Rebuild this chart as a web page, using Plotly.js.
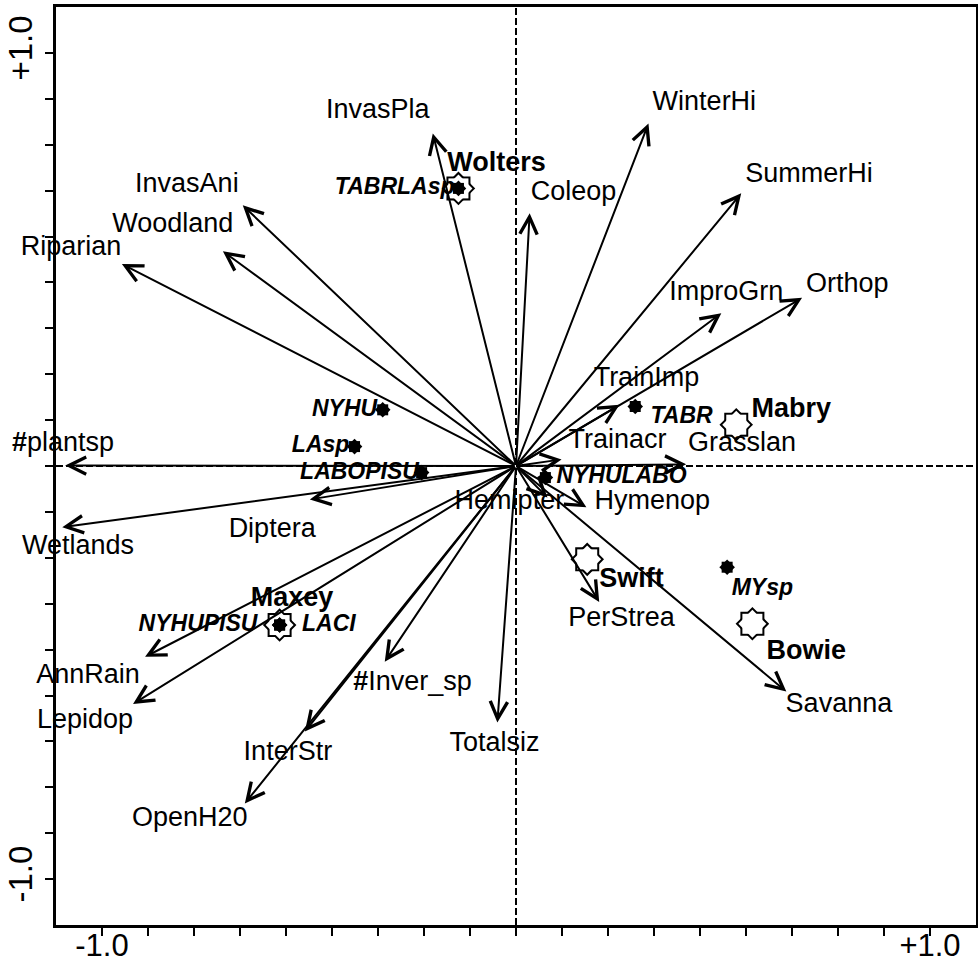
<!DOCTYPE html>
<html><head><meta charset="utf-8">
<script src="https://cdn.plot.ly/plotly-3.0.1.min.js"></script>
<style>body{margin:0;background:#fff}</style>
</head><body><div id="chart" style="width:978px;height:965px"></div>
<script>
// Environmental / taxa variables (arrow tips)
const varNames = ['InvasPla','WinterHi','InvasAni','Woodland','Riparian','Coleop','SummerHi','ImproGrn','Orthop','TrainImp','Trainacr','Grasslan','Hymenop','Hemipter','<b>#</b>plantsp','Wetlands','Diptera','AnnRain','Lepidop','<b>#</b>Inver_sp','InterStr','OpenH20','Totalsiz','PerStrea','Savanna'];
const varX = [-0.201, 0.320, -0.660, -0.708, -0.952, 0.033, 0.544, 0.496, 0.691, 0.250, 0.110, 0.411, 0.170, 0.076, -1.089, -1.096, -0.498, -0.896, -0.925, -0.317, -0.510, -0.655, -0.045, 0.201, 0.653];
const varY = [0.805, 0.829, 0.631, 0.520, 0.489, 0.612, 0.660, 0.370, 0.407, 0.148, 0.016, 0.004, -0.100, -0.076, 0.001, -0.148, -0.081, -0.462, -0.576, -0.474, -0.643, -0.817, -0.621, -0.329, -0.546];
const varLabelX = [-0.334, 0.455, -0.795, -0.829, -1.075, 0.139, 0.708, 0.508, 0.800, 0.315, 0.245, 0.546, 0.329, -0.016, -1.094, -1.058, -0.589, -1.034, -1.041, -0.250, -0.551, -0.788, -0.052, 0.255, 0.780];
const varLabelY = [0.858, 0.877, 0.679, 0.583, 0.527, 0.660, 0.703, 0.419, 0.438, 0.209, 0.059, 0.052, -0.088, -0.088, 0.052, -0.197, -0.156, -0.510, -0.619, -0.527, -0.695, -0.855, -0.674, -0.370, -0.578];

// Sites (open stars)
const siteNames = ['Wolters','Mabry','Swift','Bowie','Maxey'];
const siteX = [-0.139, 0.532, 0.172, 0.571, -0.571];
const siteY = [0.672, 0.100, -0.226, -0.382, -0.385];
const siteLabelX = [-0.047, 0.665, 0.279, 0.701, -0.541];
const siteLabelY = [0.730, 0.134, -0.276, -0.450, -0.322];

// Species (filled stars)
const spNames = ['TABRLAsp','NYHU','LAsp','LABOPISU','NYHULABO','TABR','MYsp','NYHUPISU','LACI'];
const spX = [-0.139, -0.322, -0.390, -0.228, 0.071, 0.288, 0.510, -0.571, -0.571];
const spY = [0.672, 0.136, 0.047, -0.016, -0.028, 0.144, -0.245, -0.385, -0.385];
const spLabelX = [-0.293, -0.414, -0.472, -0.378, 0.255, 0.400, 0.595, -0.768, -0.452];
const spLabelY = [0.672, 0.136, 0.047, -0.018, -0.028, 0.119, -0.298, -0.385, -0.385];

const tickValues = [-9,-8,-7,-6,-5,-4,-3,-2,-1,0,1,2,3,4,5,6,7,8,9].map(k => k/9);
const tickLabels = tickValues.map(v => Math.abs(v+1) < 1e-9 ? '-1.0' : (Math.abs(v-1) < 1e-9 ? '+1.0' : ''));

const FONT = 'Arial, "Liberation Sans", sans-serif';

const traces = [
  // open 8-pointed site stars: stroked square + diamond, then unstroked fills hide the inner lines
  {x: siteX, y: siteY, mode: 'markers', marker: {symbol: 'square', size: 20, color: '#fff', line: {color: '#000', width: 4}}, cliponaxis: false},
  {x: siteX, y: siteY, mode: 'markers', marker: {symbol: 'diamond', size: 21.5, color: '#fff', line: {color: '#000', width: 4}}, cliponaxis: false},
  {x: siteX, y: siteY, mode: 'markers', marker: {symbol: 'square', size: 20, color: '#fff', line: {width: 0}}, cliponaxis: false},
  {x: siteX, y: siteY, mode: 'markers', marker: {symbol: 'diamond', size: 21.5, color: '#fff', line: {width: 0}}, cliponaxis: false},
  // filled species stars
  {x: spX, y: spY, mode: 'markers', marker: {symbol: 'square', size: 11, color: '#000', line: {width: 0}}, cliponaxis: false},
  {x: spX, y: spY, mode: 'markers', marker: {symbol: 'diamond', size: 12, color: '#000', line: {width: 0}}, cliponaxis: false},
  {x: varLabelX, y: varLabelY, text: varNames, mode: 'text', textposition: 'middle center', textfont: {family: FONT, size: 27, color: '#000'}, cliponaxis: false},
  {x: siteLabelX, y: siteLabelY, text: siteNames, mode: 'text', textposition: 'middle center', textfont: {family: FONT, size: 27, color: '#000', weight: 'bold'}, cliponaxis: false},
  {x: spLabelX, y: spLabelY, text: spNames, mode: 'text', textposition: 'middle center', textfont: {family: FONT, size: 23, color: '#000', weight: 'bold', style: 'italic'}, cliponaxis: false}
];

const arrows = varNames.map((n, i) => ({
  x: varX[i], y: varY[i], xref: 'x', yref: 'y',
  ax: 0, ay: 0, axref: 'x', ayref: 'y',
  text: '', showarrow: true, arrowhead: 5, arrowsize: 1.7, arrowwidth: 2,
  arrowcolor: '#000', standoff: 0, startstandoff: 0
}));

const axisCommon = {
  range: [-10/9, 10/9], tickmode: 'array', tickvals: tickValues, ticktext: tickLabels,
  ticks: 'outside', ticklen: 8, tickwidth: 2, tickcolor: '#000',
  showline: true, linewidth: 3, linecolor: '#000', mirror: true,
  showgrid: false, zeroline: false, fixedrange: true,
  tickfont: {family: FONT, size: 33, color: '#000'}
};

const layout = {
  width: 978, height: 965,
  margin: {l: 56, r: 2, t: 7, b: 40},
  paper_bgcolor: '#fff', plot_bgcolor: '#fff',
  showlegend: false, hovermode: false,
  xaxis: Object.assign({}, axisCommon, {tickfont: {family: FONT, size: 31, color: '#000'}, ticklabelstandoff: -17}),
  yaxis: Object.assign({}, axisCommon, {tickangle: -90}),
  shapes: [
    {type: 'line', xref: 'x', yref: 'paper', x0: 0, x1: 0, y0: 0, y1: 1, layer: 'below', line: {color: '#000', width: 2, dash: '7px,3px'}},
    {type: 'line', xref: 'paper', yref: 'y', x0: 0, x1: 1, y0: 0, y1: 0, layer: 'below', line: {color: '#000', width: 2, dash: '7px,3px'}}
  ],
  annotations: arrows
};

Plotly.newPlot('chart', traces, layout, {displayModeBar: false, staticPlot: true});
</script>
</body></html>
